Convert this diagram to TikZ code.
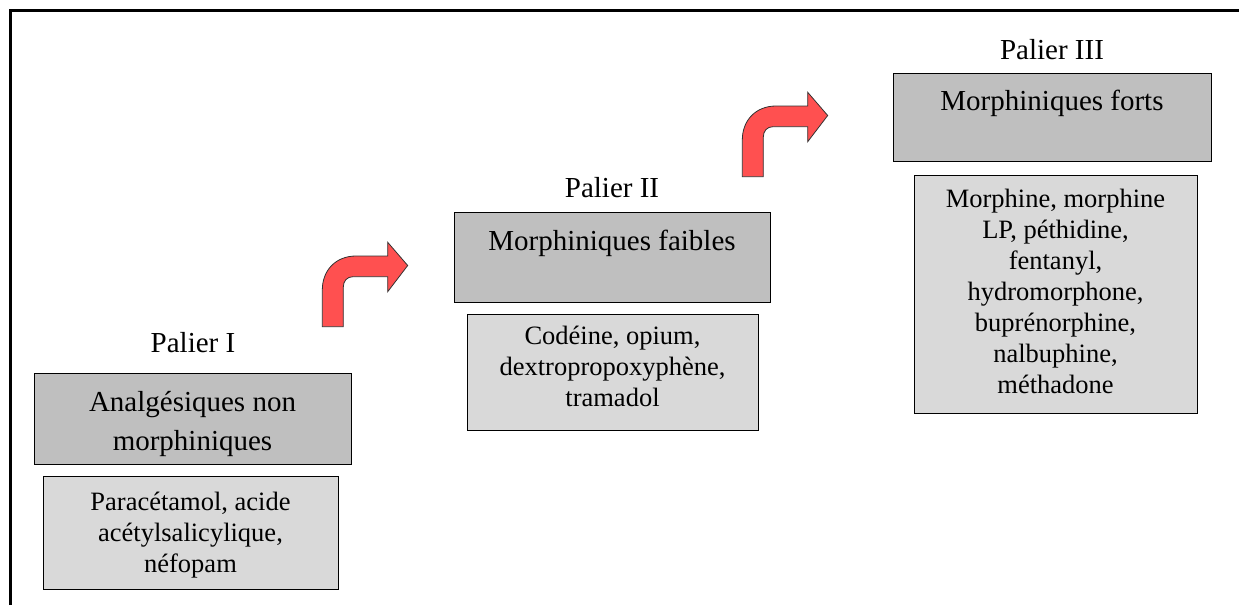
\documentclass[tikz,border=0pt]{standalone}
\usepackage{fontspec}
\setmainfont{Liberation Serif}
\definecolor{darkfill}{HTML}{BFBFBF}
\definecolor{lightfill}{HTML}{D9D9D9}
\definecolor{arrowred}{HTML}{FF5050}
\tikzset{
  darkbox/.style={draw=black, line width=1pt, fill=darkfill, inner sep=0pt},
  lightbox/.style={draw=black, line width=1pt, fill=lightfill, inner sep=0pt},
  darktext/.style={inner sep=0pt, align=center, anchor=north, font=\fontsize{29}{39}\selectfont},
  lighttext/.style={inner sep=0pt, align=center, anchor=north, font=\fontsize{26.5}{31}\selectfont},
  palier/.style={inner sep=0pt, anchor=base, font=\fontsize{29}{35}\selectfont},
  bentarrow/.style={draw=black!80, line width=0.8pt, fill=arrowred, line join=miter},
  frameline/.style={line width=3pt}
}
\begin{document}
\begin{tikzpicture}[x=1pt, y=-1pt]
\useasboundingbox (0,0) rectangle (1239,605);
% frame
\coordinate (fa) at (10.5,605);
\coordinate (fb) at (10.5,10.5);
\coordinate (fc) at (1239,10.5);
\draw[frameline] (fa) -- (fb) -- (fc);

% Palier I
\node[darkbox, minimum width=317, minimum height=91] (d1) at (192.5,418.5) {};
\node[lightbox, minimum width=295, minimum height=113] (l1) at (190.5,532.5) {};
\node[palier] (p1) at (193,352) {Palier I};
\node[darktext] (d1t) at ([yshift=-11.7pt]d1.north) {\strut Analgésiques non\\morphiniques};
\node[lighttext] (l1t) at ([yshift=-13pt]l1.north) {\strut Paracétamol, acide\\acétylsalicylique,\\néfopam};

% Palier II
\node[darkbox, minimum width=316, minimum height=90] (d2) at (612,257) {};
\node[lightbox, minimum width=291, minimum height=116] (l2) at (612.5,372) {};
\node[palier] (p2) at (612,197) {Palier II};
\node[darktext] (d2t) at ([yshift=-11.7pt]d2.north) {\strut Morphiniques faibles};
\node[lighttext] (l2t) at ([yshift=-9.5pt]l2.north) {\strut Codéine, opium,\\dextropropoxyphène,\\tramadol};

% Palier III
\node[darkbox, minimum width=318, minimum height=88] (d3) at (1052,117) {};
\node[lightbox, minimum width=283, minimum height=238] (l3) at (1055.5,294) {};
\node[palier] (p3) at (1052,59) {Palier III};
\node[darktext] (d3t) at ([yshift=-10pt]d3.north) {\strut Morphiniques forts};
\node[lighttext] (l3t) at ([yshift=-11.3pt]l3.north) {\strut Morphine, morphine\\LP, péthidine,\\fentanyl,\\hydromorphone,\\buprénorphine,\\nalbuphine,\\méthadone};

% bent arrows
\foreach \dx/\dy in {0/0, 420/-150}{
  \begin{scope}[shift={(\dx,\dy)}]
    \draw[bentarrow] (322.3,326.7) -- (322.3,290)
      .. controls (322.3,270) and (336,256) .. (356,256)
      -- (387.7,256) -- (387.7,242.3) -- (407.7,265.5) -- (387.7,291.7)
      -- (387.7,276.7) -- (353,276.7)
      .. controls (347,276.7) and (343.3,281) .. (343.3,287)
      -- (343.3,326.7) -- cycle;
  \end{scope}
}
\end{tikzpicture}
\end{document}
